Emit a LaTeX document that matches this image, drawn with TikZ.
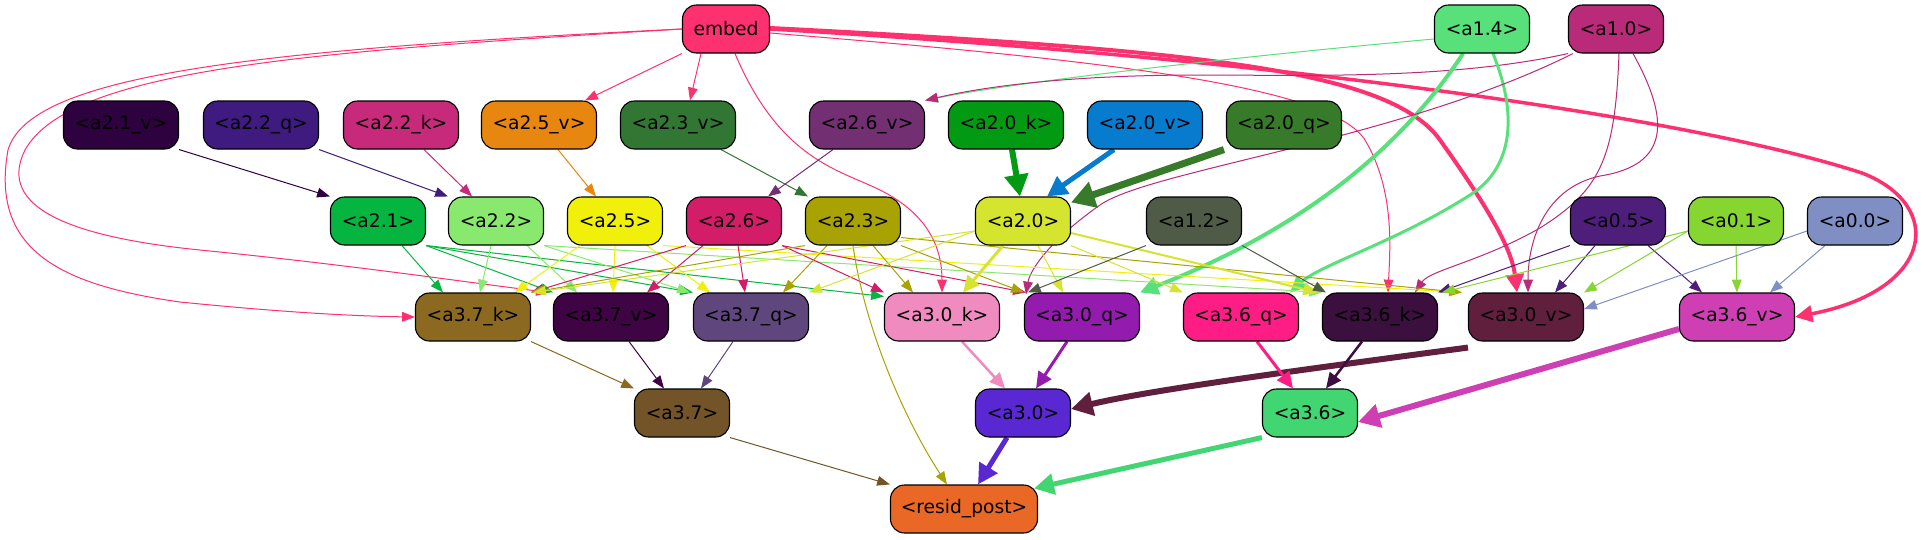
\documentclass[tikz,border=0pt]{standalone}
\usepackage{fontspec}
\setmainfont{DejaVu Sans}
\usetikzlibrary{arrows.meta}
\pgfdeclarelayer{back}
\pgfdeclarelayer{bg}
\pgfsetlayers{back,bg,main}
\definecolor{cembed}{HTML}{FE3170}
\definecolor{caXIV}{HTML}{58E07A}
\definecolor{caX}{HTML}{B92A78}
\definecolor{ca21v}{HTML}{2D023E}
\definecolor{ca22q}{HTML}{3F1A7F}
\definecolor{ca22k}{HTML}{C72A7A}
\definecolor{ca25v}{HTML}{E8870F}
\definecolor{ca23v}{HTML}{327634}
\definecolor{ca26v}{HTML}{722F72}
\definecolor{ca20k}{HTML}{039A13}
\definecolor{ca20v}{HTML}{077BCE}
\definecolor{ca20q}{HTML}{367A2A}
\definecolor{ca21}{HTML}{06B53F}
\definecolor{ca22}{HTML}{89E96E}
\definecolor{ca25}{HTML}{F0F00A}
\definecolor{ca26}{HTML}{D41D68}
\definecolor{ca23}{HTML}{A8A302}
\definecolor{ca20}{HTML}{D5E52F}
\definecolor{ca12}{HTML}{4F5B47}
\definecolor{ca05}{HTML}{4D1F7A}
\definecolor{ca01}{HTML}{87D530}
\definecolor{ca00}{HTML}{7F8FC3}
\definecolor{ca37k}{HTML}{8B6920}
\definecolor{ca37v}{HTML}{3F0444}
\definecolor{ca37q}{HTML}{5F477D}
\definecolor{ca30k}{HTML}{F08BC0}
\definecolor{ca30q}{HTML}{931BAD}
\definecolor{ca36q}{HTML}{FE1C85}
\definecolor{ca36k}{HTML}{3B0F3E}
\definecolor{ca30v}{HTML}{5F1F3D}
\definecolor{ca36v}{HTML}{CE3FB4}
\definecolor{ca37}{HTML}{735328}
\definecolor{ca30}{HTML}{5A28D2}
\definecolor{ca36}{HTML}{41D672}
\definecolor{cresid}{HTML}{EA6825}
\tikzset{
  nd/.style={draw=black, line width=1.1pt, rounded corners=14pt, minimum height=48pt,
    inner sep=0pt, text=black, font=\fontsize{18.67pt}{22pt}\selectfont},
  wA/.style={nd, minimum width=115pt},
  wB/.style={nd, minimum width=95pt},
  e/.style={-{Triangle[length=11pt 1.8, width=7pt 2.7]}, line width=1pt},
}
\begin{document}
\begin{tikzpicture}[x=1pt,y=-1pt]
\useasboundingbox (0,0) rectangle (1930,539);
\begin{pgfonlayer}{back}
\fill[white] (0,0) rectangle (1930,539);
\end{pgfonlayer}
% row 0
\node[nd, minimum width=87pt, fill=cembed] (embed) at (726,29) {embed};
\node[wB, fill=caXIV] (a14) at (1482,29) {<a1.4>};
\node[wB, fill=caX] (a10) at (1616,29) {<a1.0>};
% row 1
\node[wA, fill=ca21v] (a21v) at (121,125) {<a2.1\_v>};
\node[wA, fill=ca22q] (a22q) at (261,125) {<a2.2\_q>};
\node[wA, fill=ca22k] (a22k) at (401,125) {<a2.2\_k>};
\node[wA, fill=ca25v] (a25v) at (539,125) {<a2.5\_v>};
\node[wA, fill=ca23v] (a23v) at (678,125) {<a2.3\_v>};
\node[wA, fill=ca26v] (a26v) at (867,125) {<a2.6\_v>};
\node[wA, fill=ca20k] (a20k) at (1006,125) {<a2.0\_k>};
\node[wA, fill=ca20v] (a20v) at (1145,125) {<a2.0\_v>};
\node[wA, fill=ca20q] (a20q) at (1284,125) {<a2.0\_q>};
% row 2
\node[wB, fill=ca21] (a21) at (378,221) {<a2.1>};
\node[wB, fill=ca22] (a22) at (496,221) {<a2.2>};
\node[wB, fill=ca25] (a25) at (615,221) {<a2.5>};
\node[wB, fill=ca26] (a26) at (734,221) {<a2.6>};
\node[wB, fill=ca23] (a23) at (853,221) {<a2.3>};
\node[wB, fill=ca20] (a20) at (1023,221) {<a2.0>};
\node[wB, fill=ca12] (a12) at (1194,221) {<a1.2>};
\node[wB, fill=ca05] (a05) at (1618,221) {<a0.5>};
\node[wB, fill=ca01] (a01) at (1736,221) {<a0.1>};
\node[wB, fill=ca00] (a00) at (1855,221) {<a0.0>};
% row 3
\node[wA, fill=ca37k] (a37k) at (473,317) {<a3.7\_k>};
\node[wA, fill=ca37v] (a37v) at (611,317) {<a3.7\_v>};
\node[wA, fill=ca37q] (a37q) at (751,317) {<a3.7\_q>};
\node[wA, fill=ca30k] (a30k) at (942,317) {<a3.0\_k>};
\node[wA, fill=ca30q] (a30q) at (1082,317) {<a3.0\_q>};
\node[wA, fill=ca36q] (a36q) at (1241,317) {<a3.6\_q>};
\node[wA, fill=ca36k] (a36k) at (1380,317) {<a3.6\_k>};
\node[wA, fill=ca30v] (a30v) at (1526,317) {<a3.0\_v>};
\node[wA, fill=ca36v] (a36v) at (1737,317) {<a3.6\_v>};
% row 4
\node[wB, fill=ca37] (a37) at (682,413) {<a3.7>};
\node[wB, fill=ca30] (a30) at (1023,413) {<a3.0>};
\node[wB, fill=ca36] (a36) at (1310,413) {<a3.6>};
% row 5
\node[nd, minimum width=147pt, fill=cresid] (resid) at (964,509) {<resid\_post>};

\begin{pgfonlayer}{bg}
% embed
\draw[e, draw=cembed] (embed.south west) -- ([xshift=46pt]a25v.north);
\draw[e, draw=cembed] ([xshift=-25pt]embed.south) -- ([xshift=12pt]a23v.north);
\draw[e, draw=cembed] (embed.west) .. controls (250,50) and (30,75) .. (8,150)
   .. controls (-10,250) and (60,285) .. (180,302) .. controls (280,312) and (350,316) .. (a37k.west);
\draw[e, draw=cembed] (embed.west) .. controls (300,52) and (70,70) .. (25,150)
   .. controls (0,200) and (50,235) .. (200,250) .. controls (350,265) and (450,280) .. ([xshift=-4pt]a37v.north west);
\draw[e, draw=cembed] ([xshift=9pt]embed.south) .. controls (780,160) and (840,170) .. (880,190)
   .. controls (930,215) and (942,250) .. (a30k.north);
\draw[e, draw=cembed] ([yshift=-4pt]embed.east) .. controls (1100,60) and (1330,85) .. (1365,140)
   .. controls (1395,190) and (1390,250) .. ([xshift=8pt]a36k.north);
\draw[e, draw=cembed, line width=4pt] ([yshift=1pt]embed.east) .. controls (1200,50) and (1390,70) .. (1440,140)
   .. controls (1490,210) and (1512,250) .. ([xshift=-9pt]a30v.north);
\draw[e, draw=cembed, line width=3.5pt] (embed.east) .. controls (1300,60) and (1700,120) .. (1862,173)
   .. controls (1945,205) and (1935,290) .. (a36v.east);
% a1.4 and a1.0
\draw[e, draw=caXIV] ([yshift=-10pt]a14.west) .. controls (1200,60) and (1000,85) .. (a26v.north east);
\draw[e, draw=caX] (a10.south west) .. controls (1450,80) and (1300,75) .. (1200,75)
   .. controls (1050,75) and (970,90) .. (a26v.north east);
\draw[e, draw=caXIV, line width=4pt] ([xshift=-19pt]a14.south) .. controls (1400,150) and (1300,230) .. (a30q.north east);
\draw[e, draw=caXIV, line width=3pt] ([xshift=11pt]a14.south) .. controls (1520,120) and (1510,170) .. (1470,195)
   .. controls (1400,240) and (1320,265) .. ([xshift=49pt]a36q.north);
\draw[e, draw=caX] ([xshift=-43pt]a10.south) .. controls (1400,140) and (1150,170) .. (1100,205)
   .. controls (1050,240) and (1030,270) .. ([xshift=2pt,yshift=-2pt]a30q.north west);
\draw[e, draw=caX] ([xshift=3pt]a10.south) .. controls (1615,160) and (1600,190) .. (1540,228)
   .. controls (1480,262) and (1430,270) .. ([xshift=35pt]a36k.north);
\draw[e, draw=caX] ([xshift=17pt]a10.south) .. controls (1670,120) and (1670,165) .. (1600,176)
   .. controls (1545,188) and (1528,240) .. ([xshift=2pt]a30v.north);
% row1 -> row2
\draw[e, draw=ca21v] (a21v.south east) -- (a21.north west);
\draw[e, draw=ca22q] (a22q.south east) -- (a22.north west);
\draw[e, draw=ca22k] ([xshift=23pt]a22k.south) -- ([xshift=-24pt]a22.north);
\draw[e, draw=ca25v] ([xshift=19pt]a25v.south) -- ([xshift=-19pt]a25.north);
\draw[e, draw=ca23v] ([xshift=43pt]a23v.south) -- ([xshift=-45pt]a23.north);
\draw[e, draw=ca26v] ([xshift=-34pt]a26v.south) -- ([xshift=34pt]a26.north);
\draw[e, draw=ca20k, line width=6pt] ([xshift=6pt]a20k.south) -- ([xshift=-3pt]a20.north);
\draw[e, draw=ca20v, line width=5pt] ([xshift=-31pt]a20v.south) -- ([xshift=24pt]a20.north);
\draw[e, draw=ca20q, line width=7pt] ([xshift=-2pt]a20q.south west) -- ([yshift=-6pt]a20.north east);
% row2 -> row3
\draw[e, draw=ca21] ([xshift=24pt]a21.south) -- ([xshift=-30pt]a37k.north);
\draw[e, draw=ca21] (a21.south east) -- ([xshift=-58pt]a37v.north);
\draw[e, draw=ca21] (a21.south east) -- ([xshift=-58pt]a37q.north);
\draw[e, draw=ca21] (a21.south east) -- ([yshift=-4pt]a30k.north west);
\draw[e, draw=ca22] ([xshift=-5pt]a22.south) -- ([xshift=7pt]a37k.north);
\draw[e, draw=ca22] ([xshift=31pt]a22.south) -- ([xshift=-34pt]a37v.north);
\draw[e, draw=ca22] (a22.south east) -- ([xshift=-3pt]a37q.north west);
\draw[e, draw=ca22] (a22.south east) -- (a36k.north west);
\draw[e, draw=ca25] ([xshift=-35pt]a25.south) -- ([xshift=42pt]a37k.north);
\draw[e, draw=ca25] (a25.south) -- ([xshift=2pt]a37v.north);
\draw[e, draw=ca25] ([xshift=32pt]a25.south) -- ([xshift=-41pt]a37q.north);
\draw[e, draw=ca25] (a25.south east) -- ([xshift=-6pt]a30v.north west);
\draw[e, draw=ca26] (a26.south west) -- (a37k.north east);
\draw[e, draw=ca26] ([xshift=-31pt]a26.south) -- ([xshift=36pt]a37v.north);
\draw[e, draw=ca26] ([xshift=4pt]a26.south) -- ([xshift=-6pt]a37q.north);
\draw[e, draw=ca26] (a26.south east) -- (a30k.north west);
\draw[e, draw=ca26] (a26.south east) -- ([xshift=2pt]a30q.north west);
\draw[e, draw=ca23] (a23.south west) -- (a37k.north east);
\draw[e, draw=ca23] ([xshift=-26pt]a23.south) -- ([xshift=32pt]a37q.north);
\draw[e, draw=ca23] ([xshift=20pt]a23.south) -- ([xshift=-29pt]a30k.north);
\draw[e, draw=ca23] (a23.south east) -- (a30q.north west);
\draw[e, draw=ca23] ([yshift=8pt]a23.south east) -- ([xshift=-6pt]a30v.north west);
\draw[e, draw=ca23] (a23.south) .. controls (865,330) and (905,420) .. ([xshift=-17pt]resid.north);
\draw[e, draw=ca20] ([yshift=-10pt]a20.west) -- ([xshift=2pt]a37k.north east);
\draw[e, draw=ca20] ([yshift=-10pt]a20.west) -- (a37q.north east);
\draw[e, draw=ca20, line width=3pt] ([xshift=-20pt]a20.south) -- ([xshift=21pt]a30k.north);
\draw[e, draw=ca20] ([xshift=15pt]a20.south) -- ([xshift=-19pt]a30q.north);
\draw[e, draw=ca20] (a20.south east) -- (a36q.north west);
\draw[e, draw=ca20, line width=2pt] ([yshift=-12pt]a20.east) -- ([xshift=-4pt]a36k.north west);
\draw[e, draw=ca12] (a12.south west) -- ([xshift=4pt]a30q.north west);
\draw[e, draw=ca12] (a12.south east) -- ([xshift=4pt]a36k.north west);
\draw[e, draw=ca05] (a05.south west) -- (a36k.north east);
\draw[e, draw=ca05] ([xshift=-23pt]a05.south) -- ([xshift=29pt]a30v.north);
\draw[e, draw=ca05] ([xshift=30pt]a05.south) -- ([xshift=-35pt]a36v.north);
\draw[e, draw=ca01] ([yshift=-10pt]a01.west) -- ([xshift=4pt]a36k.north east);
\draw[e, draw=ca01] ([yshift=-10pt]a01.west) -- (a30v.north east);
\draw[e, draw=ca01] (a01.south) -- (a36v.north);
\draw[e, draw=ca00] ([yshift=-10pt]a00.west) -- ([yshift=8pt]a30v.east);
\draw[e, draw=ca00] ([xshift=-30pt]a00.south) -- ([xshift=33pt]a36v.north);
% row3 -> row4
\draw[e, draw=ca37k] (a37k.south east) -- (a37.north west);
\draw[e, draw=ca37v] ([xshift=18pt]a37v.south) -- ([xshift=-18pt]a37.north);
\draw[e, draw=ca37q] ([xshift=-18pt]a37q.south) -- ([xshift=19pt]a37.north);
\draw[e, draw=ca30k, line width=2.5pt] ([xshift=20pt]a30k.south) -- ([xshift=-18pt]a30.north);
\draw[e, draw=ca30q, line width=3pt] ([xshift=-15pt]a30q.south) -- ([xshift=13pt]a30.north);
\draw[e, draw=ca30v, line width=6pt] ([yshift=-6pt]a30v.south west) .. controls (1300,370) and (1150,390) .. ([yshift=4pt]a30.east);
\draw[e, draw=ca36q, line width=3pt] ([xshift=16pt]a36q.south) -- ([xshift=-17pt]a36.north);
\draw[e, draw=ca36k, line width=2.5pt] ([xshift=-18pt]a36k.south) -- ([xshift=16pt]a36.north);
\draw[e, draw=ca36v, line width=6pt] ([yshift=-12pt]a36v.west) -- ([yshift=-9pt]a36.east);
% row4 -> resid
\draw[e, draw=ca37] (a37.south east) -- (resid.north west);
\draw[e, draw=ca30, line width=5pt] ([xshift=-16pt]a30.south) -- ([xshift=14pt]resid.north);
\draw[e, draw=ca36, line width=5pt] (a36.south west) -- ([xshift=-4pt,yshift=-4pt]resid.north east);
\end{pgfonlayer}
\end{tikzpicture}
\end{document}
